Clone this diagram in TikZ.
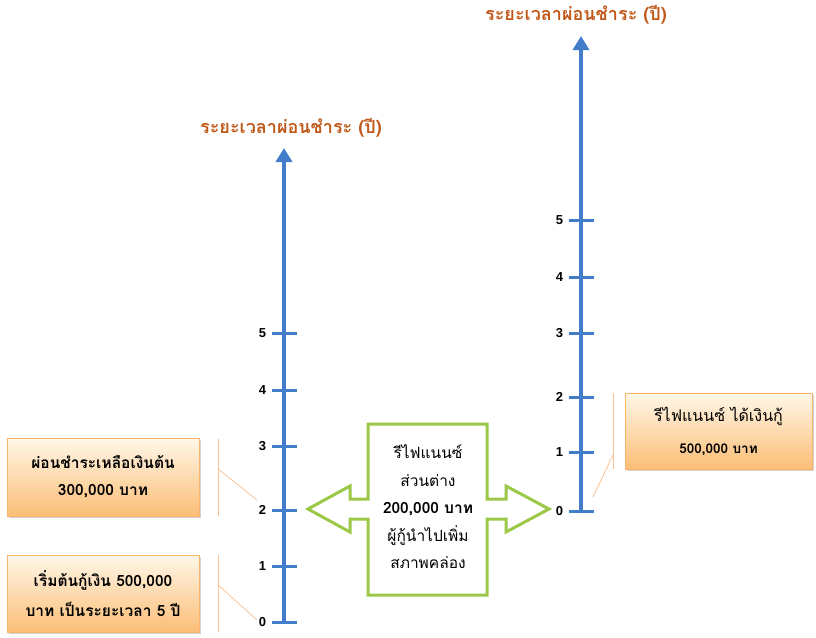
\documentclass[tikz,border=0pt]{standalone}
\usepackage{fontspec}
\setmainfont{Liberation Sans}
\newfontfamily\thai[Script=Thai]{Loma}
\usetikzlibrary{positioning,arrows.meta,shadows}

\definecolor{axisblue}{RGB}{65,125,200}
\definecolor{titlebrown}{RGB}{192,88,24}
\definecolor{boxline}{RGB}{250,180,110}
\definecolor{boxtop}{RGB}{255,247,232}
\definecolor{boxbottom}{RGB}{251,190,118}
\definecolor{lime}{RGB}{155,200,70}
\definecolor{callline}{RGB}{250,195,150}

\tikzset{
  axis/.style={draw=axisblue,line width=4pt,-{Triangle[width=16pt,length=14pt]}},
  tick/.style={rectangle,fill=axisblue,inner sep=0pt,minimum width=25pt,minimum height=3pt},
  num/.style={font=\bfseries\fontsize{13}{14}\selectfont,inner sep=0pt},
  axtitle/.style={font=\thai\bfseries\fontsize{18}{20}\selectfont,text=titlebrown},
  infobox/.style={rectangle,draw=boxline,line width=1pt,top color=boxtop,bottom color=boxbottom,
    drop shadow={opacity=0.35,shadow xshift=2pt,shadow yshift=-2pt},align=center,
    font=\thai\bfseries\fontsize{15.5}{27}\selectfont},
  callout/.style={draw=callline,line width=0.8pt}
}

\begin{document}
\begin{tikzpicture}[x=1pt,y=-1pt]
\useasboundingbox (0,0) rectangle (816,637);

% left axis
\node[axtitle] (ltitle) at (291,128) {ระยะเวลาผ่อนชำระ (ปี)};
\coordinate (ltop) at (284,148);
\node[tick] (lt0) at (284,622) {};
\node[tick] (lt1) at (284,566) {};
\node[tick] (lt2) at (284,510) {};
\node[tick] (lt3) at (284,446) {};
\node[tick] (lt4) at (284,390) {};
\node[tick] (lt5) at (284,333) {};
\draw[axis] (lt0.center) -- (ltop);
\node[tick] at (lt0) {};
\node[tick] at (lt1) {};
\node[tick] at (lt2) {};
\node[tick] at (lt3) {};
\node[tick] at (lt4) {};
\node[tick] at (lt5) {};
\node[num,left=5pt of lt0] (ln0) {0};
\node[num,left=5pt of lt1] (ln1) {1};
\node[num,left=5pt of lt2] (ln2) {2};
\node[num,left=5pt of lt3] (ln3) {3};
\node[num,left=5pt of lt4] (ln4) {4};
\node[num,left=5pt of lt5] (ln5) {5};

% right axis
\node[axtitle] (rtitle) at (576,15) {ระยะเวลาผ่อนชำระ (ปี)};
\coordinate (rtop) at (581,36);
\node[tick] (rt0) at (581,511) {};
\node[tick] (rt1) at (581,452) {};
\node[tick] (rt2) at (581,397) {};
\node[tick] (rt3) at (581,333) {};
\node[tick] (rt4) at (581,277) {};
\node[tick] (rt5) at (581,220) {};
\draw[axis] (rt0.center) -- (rtop);
\node[tick] at (rt0) {};
\node[tick] at (rt1) {};
\node[tick] at (rt2) {};
\node[tick] at (rt3) {};
\node[tick] at (rt4) {};
\node[tick] at (rt5) {};
\node[num,left=5pt of rt0] (rn0) {0};
\node[num,left=5pt of rt1] (rn1) {1};
\node[num,left=5pt of rt2] (rn2) {2};
\node[num,left=5pt of rt3] (rn3) {3};
\node[num,left=5pt of rt4] (rn4) {4};
\node[num,left=5pt of rt5] (rn5) {5};

% boxes
\node[infobox,minimum width=192pt,minimum height=78pt] (remain) at (103,477)
  {ผ่อนชำระเหลือเงินต้น\\300,000 บาท};
\node[infobox,minimum width=192pt,minimum height=77pt,font=\thai\bfseries\fontsize{15.5}{30}\selectfont] (start) at (103,593.5)
  {เริ่มต้นกู้เงิน 500,000\\บาท เป็นระยะเวลา 5 ปี};
\node[infobox,minimum width=187pt,minimum height=76pt,font=\thai\bfseries\fontsize{13.5}{32}\selectfont] (refi) at (718.5,431)
  {{\mdseries\fontsize{16}{18}\selectfont รีไฟแนนซ์ ได้เงินกู้}\\500,000 บาท};

% callouts
\coordinate (c1t) at (218,439);
\coordinate (c1b) at (218,516);
\coordinate (c1m) at (218,469);
\coordinate (c1e) at (257,500);
\draw[callout] (c1t) -- (c1b);
\draw[callout] (c1m) -- (c1e);
\coordinate (c2t) at (218,555);
\coordinate (c2b) at (218,632);
\coordinate (c2m) at (218,585);
\coordinate (c2e) at (257,620);
\draw[callout] (c2t) -- (c2b);
\draw[callout] (c2m) -- (c2e);
\coordinate (c3t) at (613,393);
\coordinate (c3b) at (613,469);
\coordinate (c3m) at (613,455);
\coordinate (c3e) at (593,497);
\draw[callout] (c3t) -- (c3b);
\draw[callout] (c3m) -- (c3e);

% double arrow
\draw[lime,line width=3pt,fill=white,line join=miter]
  (368,424) -- (487,424) -- (487,499) -- (506,499) -- (506,486) -- (549,509)
  -- (506,532) -- (506,519) -- (487,519) -- (487,595) -- (368,595) -- (368,519)
  -- (350,519) -- (350,532) -- (308,509) -- (350,486) -- (350,499) -- (368,499) -- cycle;
\node[align=center,font=\thai\fontsize{15.5}{27.5}\selectfont] (diff) at (428,507)
  {รีไฟแนนซ์\\ส่วนต่าง\\{\bfseries 200,000 บาท}\\ผู้กู้นำไปเพิ่ม\\สภาพคล่อง};
\end{tikzpicture}
\end{document}
